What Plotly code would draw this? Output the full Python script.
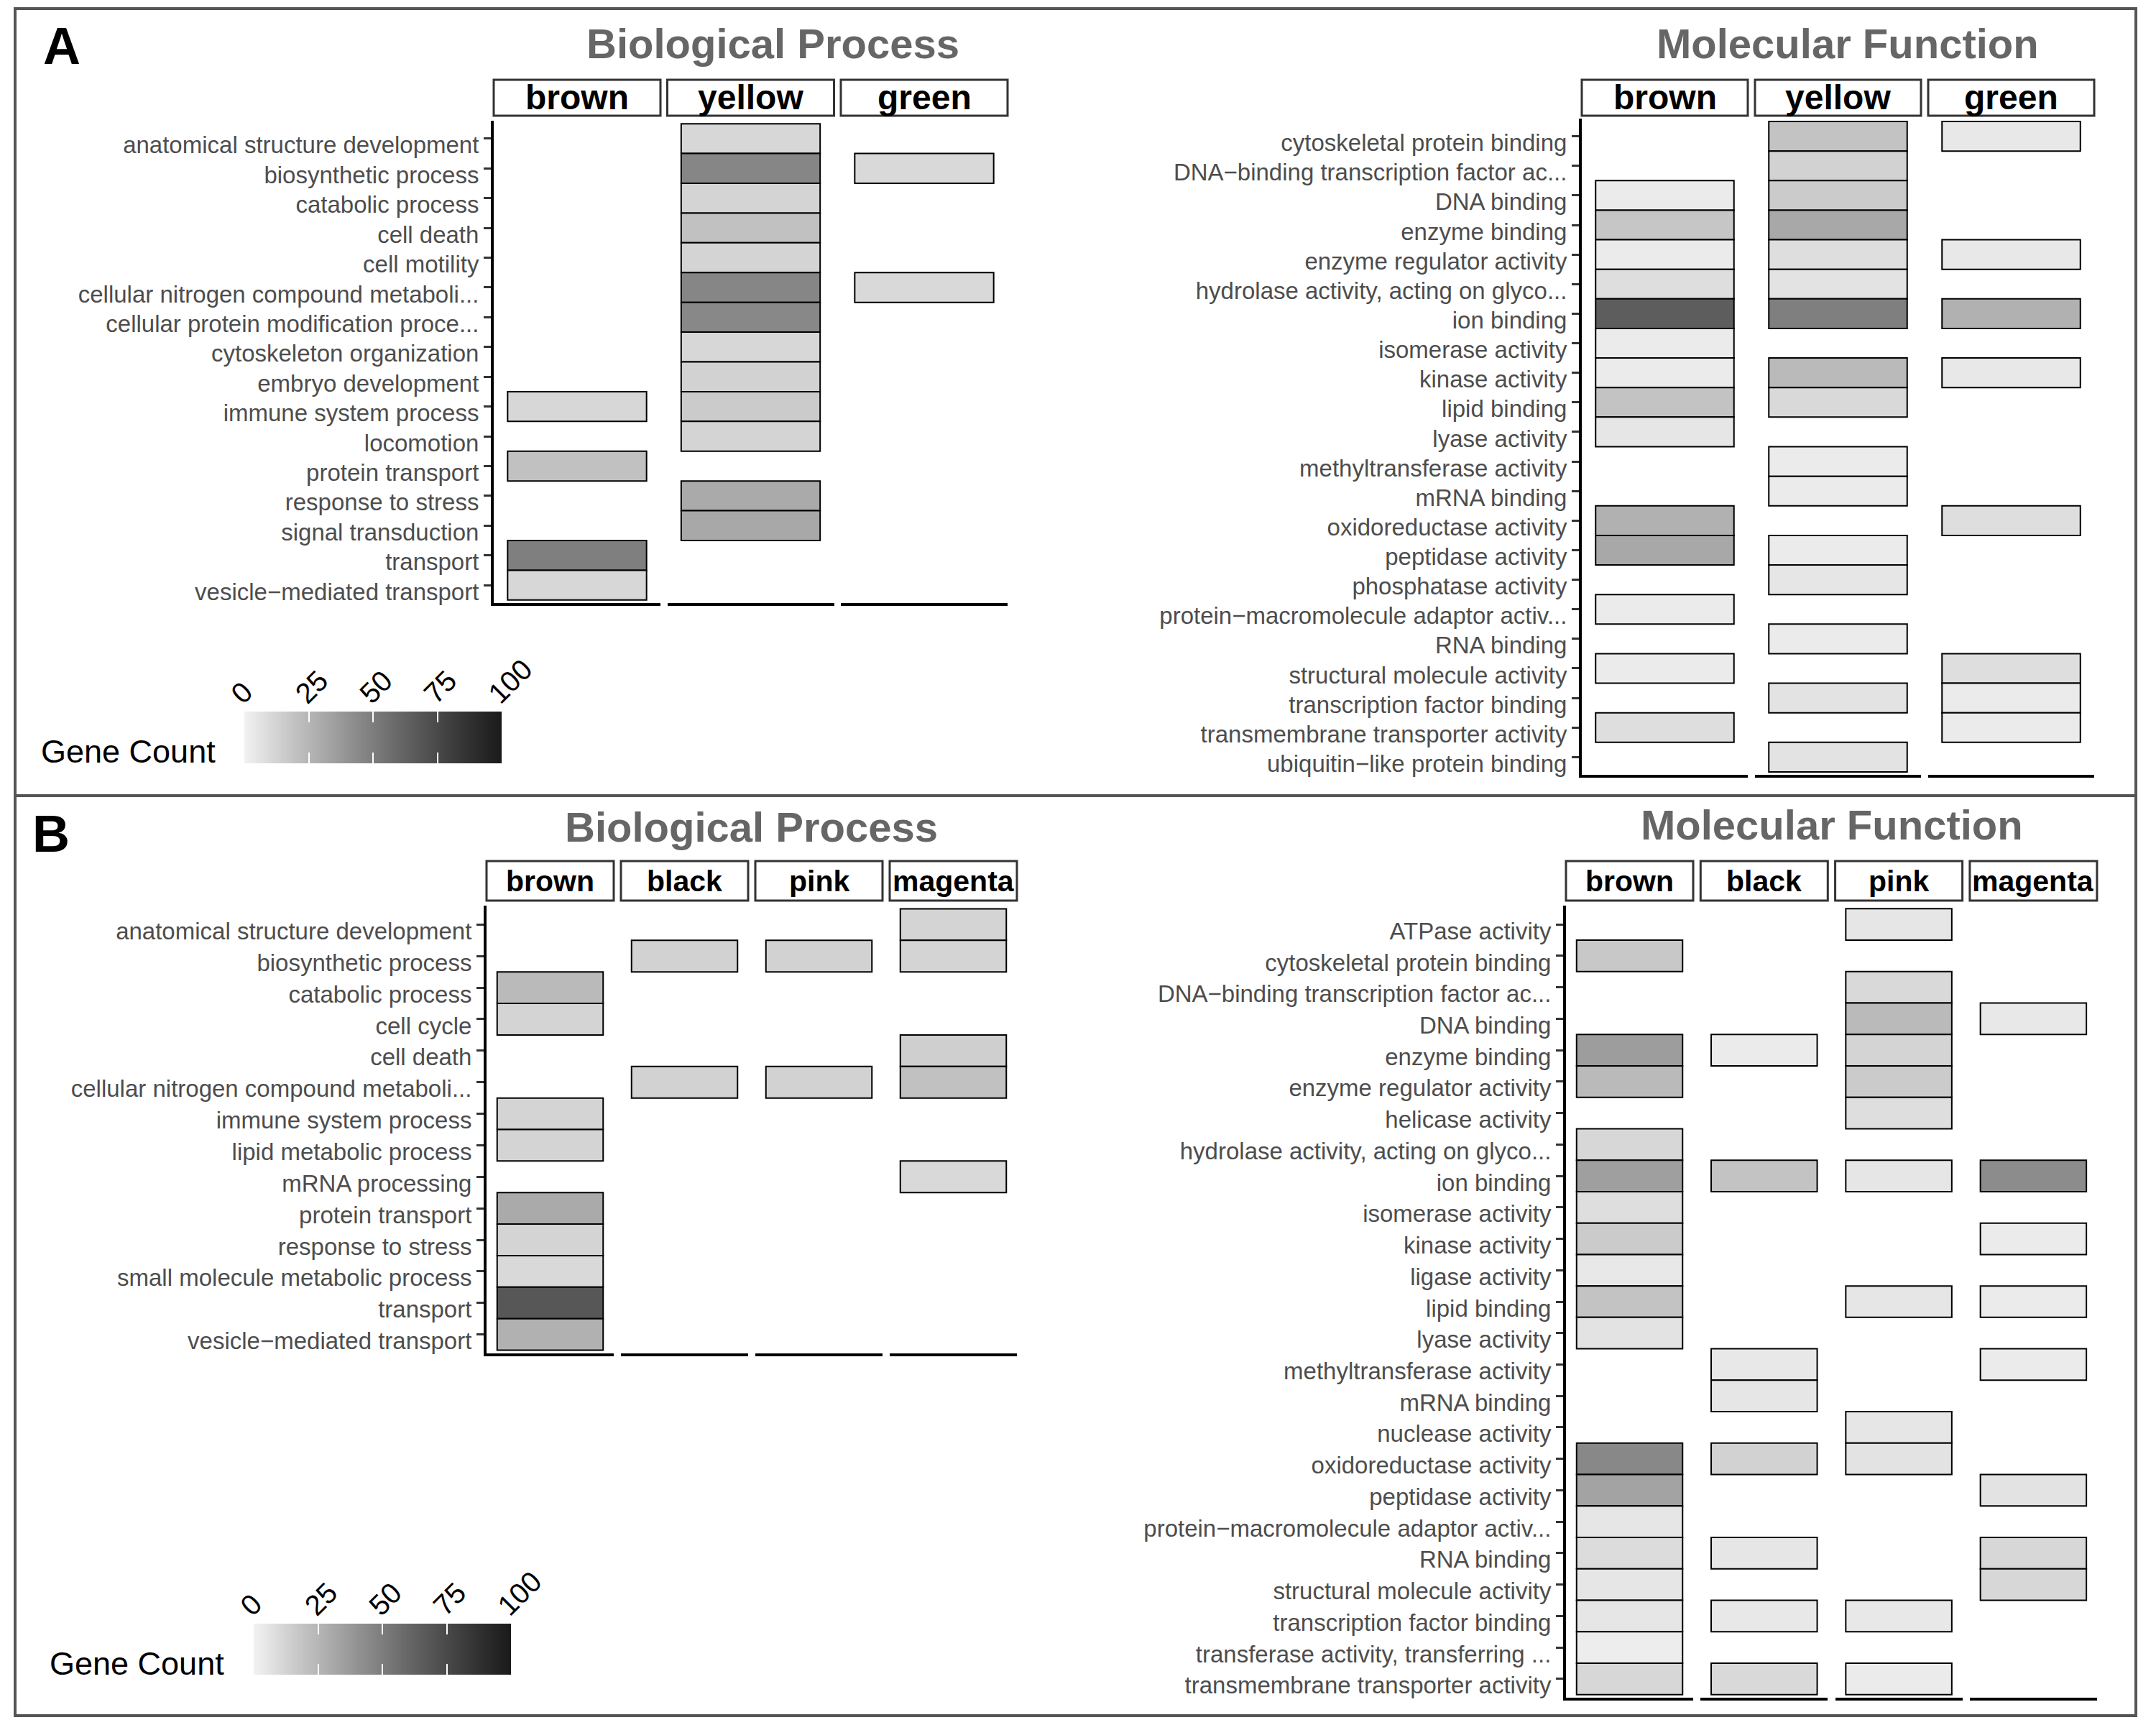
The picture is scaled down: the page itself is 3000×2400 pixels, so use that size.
import numpy as np
import plotly.graph_objects as go

# ---------------- data ----------------
a_bp_terms = ["anatomical structure development", "biosynthetic process", "catabolic process",
              "cell death", "cell motility", "cellular nitrogen compound metaboli...",
              "cellular protein modification proce...", "cytoskeleton organization",
              "embryo development", "immune system process", "locomotion", "protein transport",
              "response to stress", "signal transduction", "transport", "vesicle−mediated transport"]
a_modules = ["brown", "yellow", "green"]
a_bp_brown_terms = ["immune system process", "protein transport", "transport", "vesicle−mediated transport"]
a_bp_brown_counts = [11, 20, 49, 11]
a_bp_yellow_terms = ["anatomical structure development", "biosynthetic process", "catabolic process",
                     "cell death", "cell motility", "cellular nitrogen compound metaboli...",
                     "cellular protein modification proce...", "cytoskeleton organization",
                     "embryo development", "immune system process", "locomotion",
                     "response to stress", "signal transduction"]
a_bp_yellow_counts = [11, 46, 12, 20, 12, 46, 45, 11, 13, 16, 12, 30, 31]
a_bp_green_terms = ["biosynthetic process", "cellular nitrogen compound metaboli..."]
a_bp_green_counts = [10, 10]

a_mf_terms = ["cytoskeletal protein binding", "DNA−binding transcription factor ac...", "DNA binding",
              "enzyme binding", "enzyme regulator activity", "hydrolase activity, acting on glyco...",
              "ion binding", "isomerase activity", "kinase activity", "lipid binding", "lyase activity",
              "methyltransferase activity", "mRNA binding", "oxidoreductase activity",
              "peptidase activity", "phosphatase activity", "protein−macromolecule adaptor activ...",
              "RNA binding", "structural molecule activity", "transcription factor binding",
              "transmembrane transporter activity", "ubiquitin−like protein binding"]
a_mf_brown_terms = ["DNA binding", "enzyme binding", "enzyme regulator activity",
                    "hydrolase activity, acting on glyco...", "ion binding", "isomerase activity",
                    "kinase activity", "lipid binding", "lyase activity", "oxidoreductase activity",
                    "peptidase activity", "protein−macromolecule adaptor activ...",
                    "structural molecule activity", "transmembrane transporter activity"]
a_mf_brown_counts = [3, 18, 3, 8, 65, 3, 3, 19, 5, 27, 31, 3, 3, 8]
a_mf_yellow_terms = ["cytoskeletal protein binding", "DNA−binding transcription factor ac...", "DNA binding",
                     "enzyme binding", "enzyme regulator activity", "hydrolase activity, acting on glyco...",
                     "ion binding", "kinase activity", "lipid binding", "methyltransferase activity",
                     "mRNA binding", "peptidase activity", "phosphatase activity", "RNA binding",
                     "transcription factor binding", "ubiquitin−like protein binding"]
a_mf_yellow_counts = [19, 13, 16, 31, 8, 6, 49, 23, 10, 3, 3, 3, 5, 3, 6, 6]
a_mf_green_terms = ["cytoskeletal protein binding", "enzyme regulator activity", "ion binding",
                    "kinase activity", "oxidoreductase activity", "structural molecule activity",
                    "transcription factor binding", "transmembrane transporter activity"]
a_mf_green_counts = [4, 4, 27, 4, 8, 8, 3, 3]

b_bp_terms = ["anatomical structure development", "biosynthetic process", "catabolic process",
              "cell cycle", "cell death", "cellular nitrogen compound metaboli...",
              "immune system process", "lipid metabolic process", "mRNA processing",
              "protein transport", "response to stress", "small molecule metabolic process",
              "transport", "vesicle−mediated transport"]
b_modules = ["brown", "black", "pink", "magenta"]
b_bp_brown_terms = ["catabolic process", "cell cycle", "immune system process", "lipid metabolic process",
                    "protein transport", "response to stress", "small molecule metabolic process",
                    "transport", "vesicle−mediated transport"]
b_bp_brown_counts = [23, 12, 12, 12, 30, 12, 10, 68, 27]
b_bp_black_terms = ["biosynthetic process", "cellular nitrogen compound metaboli..."]
b_bp_black_counts = [13, 13]
b_bp_pink_terms = ["biosynthetic process", "cellular nitrogen compound metaboli..."]
b_bp_pink_counts = [13, 13]
b_bp_magenta_terms = ["anatomical structure development", "biosynthetic process", "cell death",
                      "cellular nitrogen compound metaboli...", "mRNA processing"]
b_bp_magenta_counts = [12, 12, 14, 20, 10]

b_mf_terms = ["ATPase activity", "cytoskeletal protein binding", "DNA−binding transcription factor ac...",
              "DNA binding", "enzyme binding", "enzyme regulator activity", "helicase activity",
              "hydrolase activity, acting on glyco...", "ion binding", "isomerase activity",
              "kinase activity", "ligase activity", "lipid binding", "lyase activity",
              "methyltransferase activity", "mRNA binding", "nuclease activity",
              "oxidoreductase activity", "peptidase activity", "protein−macromolecule adaptor activ...",
              "RNA binding", "structural molecule activity", "transcription factor binding",
              "transferase activity, transferring ...", "transmembrane transporter activity"]
b_mf_brown_terms = ["cytoskeletal protein binding", "enzyme binding", "enzyme regulator activity",
                    "hydrolase activity, acting on glyco...", "ion binding", "isomerase activity",
                    "kinase activity", "ligase activity", "lipid binding", "lyase activity",
                    "oxidoreductase activity", "peptidase activity", "protein−macromolecule adaptor activ...",
                    "RNA binding", "structural molecule activity", "transcription factor binding",
                    "transferase activity, transferring ...", "transmembrane transporter activity"]
b_mf_brown_counts = [17, 36, 23, 11, 35, 8, 16, 4, 19, 6, 45, 33, 5, 9, 5, 5, 2, 11]
b_mf_black_terms = ["enzyme binding", "ion binding", "methyltransferase activity", "mRNA binding",
                    "oxidoreductase activity", "RNA binding", "transcription factor binding",
                    "transmembrane transporter activity"]
b_mf_black_counts = [3, 19, 4, 5, 13, 5, 4, 10]
b_mf_pink_terms = ["ATPase activity", "DNA−binding transcription factor ac...", "DNA binding",
                   "enzyme binding", "enzyme regulator activity", "helicase activity", "ion binding",
                   "lipid binding", "nuclease activity", "oxidoreductase activity",
                   "transcription factor binding", "transmembrane transporter activity"]
b_mf_pink_counts = [5, 10, 23, 12, 16, 8, 5, 5, 5, 6, 4, 3]
b_mf_magenta_terms = ["DNA binding", "ion binding", "kinase activity", "lipid binding",
                      "methyltransferase activity", "peptidase activity", "RNA binding",
                      "structural molecule activity"]
b_mf_magenta_counts = [4, 43, 3, 3, 3, 6, 11, 11]

colorbar_ticks = [0, 25, 50, 75, 100]

# ---------------- styling helpers ----------------
W, H = 3000, 2400
FONT = "Liberation Sans"


def px(x):
    return x / W


def py(y):
    return 1 - y / H


def s2lin(v):
    v = v / 255
    return ((v + 0.055) / 1.055) ** 2.4 if v > 0.04045 else v / 12.92


def lin2L(l):
    return 116 * l ** (1 / 3) - 16 if l > 0.008856 else 903.3 * l


def L2lin(L):
    f = (L + 16) / 116
    return f ** 3 if f ** 3 > 0.008856 else L / 903.3


def lin2s(l):
    return 255 * (1.055 * l ** (1 / 2.4) - 0.055) if l > 0.0031308 else 255 * 12.92 * l


Llow, Lhigh = lin2L(s2lin(242)), lin2L(s2lin(26))
colorscale = []
for t in np.linspace(0, 1, 21):
    g = int(round(lin2s(L2lin(Llow + (Lhigh - Llow) * t))))
    colorscale.append([float(t), f"rgb({g},{g},{g})"])

fig = go.Figure()
layout = {}
shapes = []
annotations = []

panels = [
    dict(terms=a_bp_terms, modules=a_modules,
         data=[(a_bp_brown_terms, a_bp_brown_counts), (a_bp_yellow_terms, a_bp_yellow_counts),
               (a_bp_green_terms, a_bp_green_counts)],
         x0=687, w=232, step=241.5, top=168, bottom=839, st=111, sb=161, sfont=48,
         title="Biological Process", tx=1075, ty=60),
    dict(terms=a_mf_terms, modules=a_modules,
         data=[(a_mf_brown_terms, a_mf_brown_counts), (a_mf_yellow_terms, a_mf_yellow_counts),
               (a_mf_green_terms, a_mf_green_counts)],
         x0=2201, w=231, step=241, top=165, bottom=1078, st=111, sb=161, sfont=48,
         title="Molecular Function", tx=2571, ty=60),
    dict(terms=b_bp_terms, modules=b_modules,
         data=[(b_bp_brown_terms, b_bp_brown_counts), (b_bp_black_terms, b_bp_black_counts),
               (b_bp_pink_terms, b_bp_pink_counts), (b_bp_magenta_terms, b_bp_magenta_counts)],
         x0=677, w=177, step=187, top=1260, bottom=1883, st=1198, sb=1253, sfont=41,
         title="Biological Process", tx=1045, ty=1150),
    dict(terms=b_mf_terms, modules=b_modules,
         data=[(b_mf_brown_terms, b_mf_brown_counts), (b_mf_black_terms, b_mf_black_counts),
               (b_mf_pink_terms, b_mf_pink_counts), (b_mf_magenta_terms, b_mf_magenta_counts)],
         x0=2179, w=177, step=187.3, top=1260, bottom=2362, st=1198, sb=1253, sfont=41,
         title="Molecular Function", tx=2549, ty=1148),
]

k = 0
for p in panels:
    terms = p["terms"]
    n = len(terms)
    for j, (mod, (mterms, mcounts)) in enumerate(zip(p["modules"], p["data"])):
        k += 1
        xs = "" if k == 1 else str(k)
        xl = p["x0"] + j * p["step"]
        xr = xl + p["w"]
        ypos = [terms.index(t) for t in mterms]
        fig.add_trace(go.Bar(
            orientation="h", y=ypos, x=[1] * len(ypos), base=[-0.5] * len(ypos), width=1,
            marker=dict(color=mcounts, colorscale=colorscale, cmin=0, cmax=100, showscale=False,
                        line=dict(color="black", width=2)),
            xaxis="x" + xs, yaxis="y" + xs, showlegend=False,
            hovertext=mterms, hoverinfo="text"))
        layout["xaxis" + xs] = dict(domain=[px(xl), px(xr)], range=[-0.6, 0.6], anchor="y" + xs,
                                    showline=True, linecolor="black", linewidth=4,
                                    showticklabels=False, ticks="", showgrid=False, zeroline=False,
                                    fixedrange=True, automargin=False)
        ya = dict(domain=[py(p["bottom"]), py(p["top"])], range=[n - 0.4, -0.6], anchor="x" + xs,
                  showgrid=False, zeroline=False, fixedrange=True, automargin=False,
                  tickmode="array", tickvals=list(range(n)), ticktext=terms)
        if j == 0:
            ya.update(showline=True, linecolor="black", linewidth=4, ticks="outside", ticklen=10,
                      tickwidth=3, tickcolor="#333333", ticklabelshift=-9,
                      tickfont=dict(family=FONT, size=33, color="#4d4d4d"))
        else:
            ya.update(showline=False, showticklabels=False, ticks="")
        layout["yaxis" + xs] = ya
        # strip
        shapes.append(dict(type="rect", xref="paper", yref="paper",
                           x0=px(xl), x1=px(xr), y0=py(p["sb"]), y1=py(p["st"]),
                           line=dict(color="#333333", width=3), fillcolor="white", layer="above"))
        annotations.append(dict(text=mod, x=px((xl + xr) / 2), y=py((p["st"] + p["sb"]) / 2),
                                xref="paper", yref="paper", showarrow=False,
                                xanchor="center", yanchor="middle",
                                font=dict(family=FONT, size=p["sfont"], color="black", weight="bold")))
    annotations.append(dict(text=p["title"], x=px(p["tx"]), y=py(p["ty"]), xref="paper", yref="paper",
                            showarrow=False, xanchor="center", yanchor="middle",
                            font=dict(family=FONT, size=58, color="#666666", weight="bold")))

# colour legends (gradient bars)
legends = [dict(x0=340, x1=698, y0=990, y1=1062, gx=178, gy=1045),
           dict(x0=353, x1=711, y0=2259, y1=2330, gx=190, gy=2314)]
grad = np.linspace(0, 100, 401)
for lg in legends:
    k += 1
    xs = str(k)
    fig.add_trace(go.Heatmap(z=[grad], x=grad, y=[0], colorscale=colorscale, zmin=0, zmax=100,
                             showscale=False, xaxis="x" + xs, yaxis="y" + xs, hoverinfo="skip"))
    layout["xaxis" + xs] = dict(domain=[px(lg["x0"]), px(lg["x1"])], range=[0, 100], anchor="y" + xs,
                                side="top", tickmode="array", tickvals=colorbar_ticks,
                                ticks="inside", ticklen=15, tickwidth=2, tickcolor="white",
                                mirror="ticks", showline=False, showgrid=False, zeroline=False,
                                tickangle=-45, ticklabelshift=-16, ticklabelstandoff=-6,
                                tickfont=dict(family=FONT, size=40, color="black"),
                                fixedrange=True, automargin=False)
    layout["yaxis" + xs] = dict(domain=[py(lg["y1"]), py(lg["y0"])], range=[-0.5, 0.5],
                                anchor="x" + xs, showticklabels=False, ticks="", showgrid=False,
                                zeroline=False, showline=False, fixedrange=True, automargin=False)
    annotations.append(dict(text="Gene Count", x=px(lg["gx"]), y=py(lg["gy"]), xref="paper",
                            yref="paper", showarrow=False, xanchor="center", yanchor="middle",
                            font=dict(family=FONT, size=45, color="black")))

# panel letters
annotations.append(dict(text="A", x=px(86), y=py(64), xref="paper", yref="paper", showarrow=False,
                        xanchor="center", yanchor="middle",
                        font=dict(family=FONT, size=72, color="black", weight="bold")))
annotations.append(dict(text="B", x=px(71), y=py(1160), xref="paper", yref="paper", showarrow=False,
                        xanchor="center", yanchor="middle",
                        font=dict(family=FONT, size=72, color="black", weight="bold")))

# outer boxes
shapes.append(dict(type="rect", xref="paper", yref="paper", x0=px(21), x1=px(2972),
                   y0=py(1107), y1=py(12), line=dict(color="#555555", width=4)))
shapes.append(dict(type="rect", xref="paper", yref="paper", x0=px(21), x1=px(2972),
                   y0=py(2387), y1=py(1107), line=dict(color="#555555", width=4)))

fig.update_layout(**layout)
fig.update_layout(width=W, height=H, autosize=False,
                  margin=dict(l=0, r=0, t=0, b=0, pad=0, autoexpand=False),
                  paper_bgcolor="white", plot_bgcolor="white", showlegend=False,
                  shapes=shapes, annotations=annotations, font=dict(family=FONT))
fig.write_html("out.html", config={"responsive": False})
